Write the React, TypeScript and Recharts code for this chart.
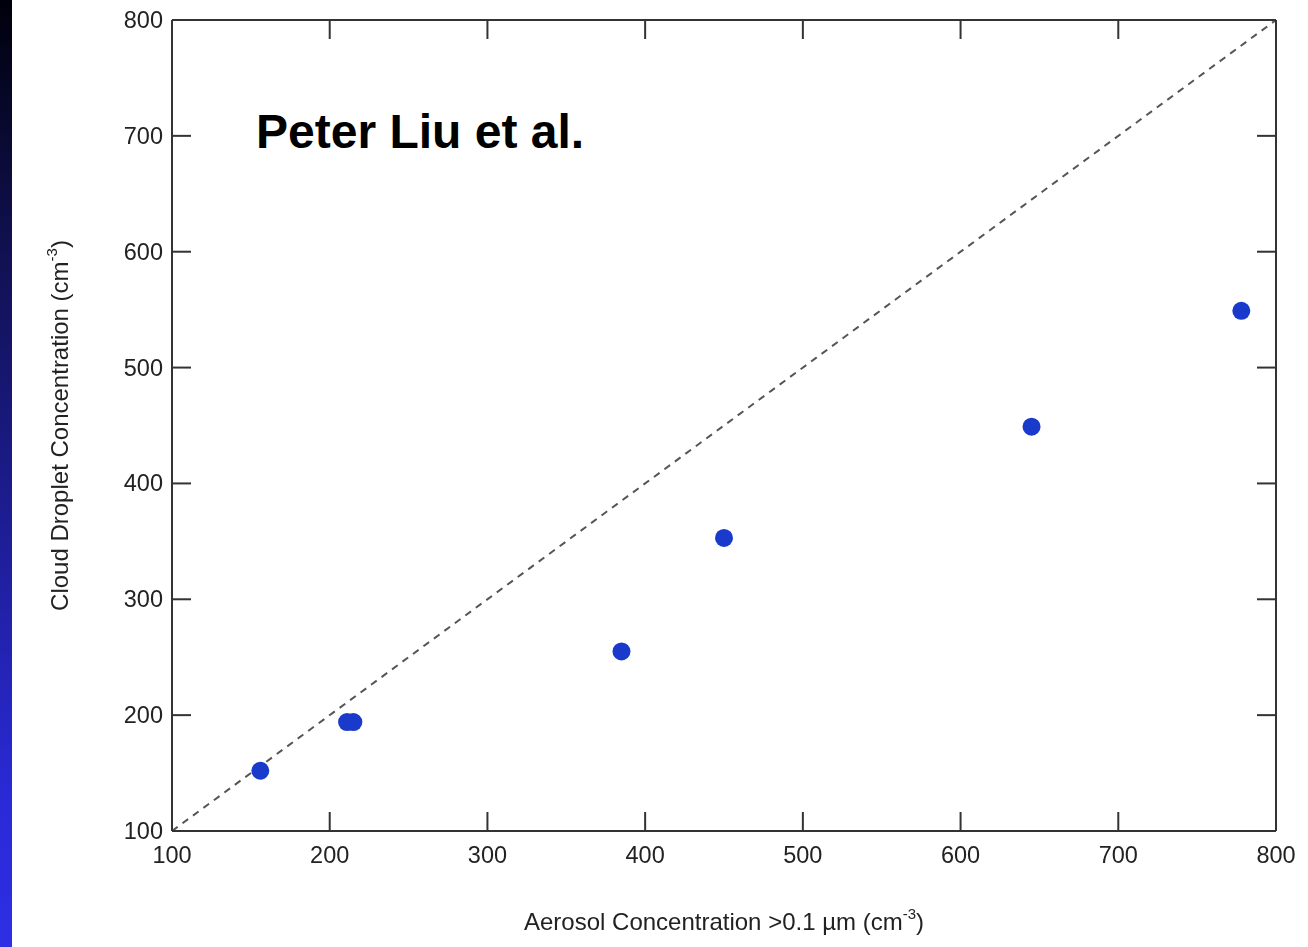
import React from "react"
import { ScatterChart, Scatter, XAxis, YAxis, ReferenceLine } from "recharts"

const aerosol = [156, 211, 215, 385, 450, 645, 778]
const droplets = [152, 194, 194, 255, 353, 449, 549]
const axisTicks = [100, 200, 300, 400, 500, 600, 700, 800]
const oneToOne = [100, 800]

const points = aerosol.map((x, i) => ({ x, y: droplets[i] }))

const FONT = "'Liberation Sans', Arial, sans-serif"
const AXIS = "#333"
const TICK_LEN = 19

const BottomTick = (props: any) => {
  const { x, y, payload } = props
  return (
    <g>
      <line x1={x} y1={y} x2={x} y2={y - TICK_LEN} stroke={AXIS} strokeWidth={2} />
      <text x={x} y={y + 32} textAnchor="middle" fontFamily={FONT} fontSize={23.5} fill="#222">
        {payload.value}
      </text>
    </g>
  )
}

const TopTick = (props: any) => {
  const { x, y } = props
  return <line x1={x} y1={y} x2={x} y2={y + TICK_LEN} stroke={AXIS} strokeWidth={2} />
}

const LeftTick = (props: any) => {
  const { x, y, payload } = props
  return (
    <g>
      <line x1={x} y1={y} x2={x + TICK_LEN} y2={y} stroke={AXIS} strokeWidth={2} />
      <text x={x - 9} y={y + 8} textAnchor="end" fontFamily={FONT} fontSize={23.5} fill="#222">
        {payload.value}
      </text>
    </g>
  )
}

const RightTick = (props: any) => {
  const { x, y } = props
  return <line x1={x} y1={y} x2={x - TICK_LEN} y2={y} stroke={AXIS} strokeWidth={2} />
}

const XTitle = (props: any) => {
  const { x, y, width } = props.viewBox
  return (
    <text x={x + width / 2} y={y + 99} textAnchor="middle" fontFamily={FONT} fontSize={24} fill="#222">
      Aerosol Concentration &gt;0.1 µm (cm
      <tspan dy={-11} fontSize={15}>-3</tspan>
      <tspan dy={11}>)</tspan>
    </text>
  )
}

const YTitle = (props: any) => {
  const { x, y, height } = props.viewBox
  const cx = x - 24
  const cy = y + height / 2
  return (
    <text
      x={cx}
      y={cy}
      transform={`rotate(-90 ${cx} ${cy})`}
      textAnchor="middle"
      fontFamily={FONT}
      fontSize={24}
      fill="#222"
    >
      Cloud Droplet Concentration (cm
      <tspan dy={-11} fontSize={15}>-3</tspan>
      <tspan dy={11}>)</tspan>
    </text>
  )
}

const Dot = (props: any) => <circle cx={props.cx} cy={props.cy} r={9} fill="#1a3acc" />

export default function App() {
  return (
    <div style={{ position: "relative", width: 1300, height: 939 }}>
      <div
        style={{
          position: "fixed",
          left: 0,
          top: 0,
          width: 12,
          height: 947,
          background: "linear-gradient(to bottom, #00000c, #10104e 25%, #2a2ad8 85%, #2e2ee4)",
        }}
      />
      <div
        style={{
          position: "absolute",
          left: 248,
          top: 96,
          fontFamily: FONT,
          fontWeight: "bold",
          fontSize: 48,
          color: "#000",
          whiteSpace: "nowrap",
        }}
      >
        Peter Liu et al.
      </div>
      <ScatterChart width={1300} height={939} margin={{ top: 11, right: 31, bottom: 56, left: 84 }}>
        <XAxis
          xAxisId="bottom"
          dataKey="x"
          type="number"
          domain={[100, 800]}
          ticks={axisTicks}
          interval={0}
          allowDataOverflow
          height={60}
          tickSize={0}
          tickMargin={0}
          tick={<BottomTick />}
          axisLine={{ stroke: AXIS, strokeWidth: 2 }}
          tickLine={false}
          label={<XTitle />}
        />
        <XAxis
          xAxisId="top"
          orientation="top"
          dataKey="x"
          type="number"
          domain={[100, 800]}
          ticks={axisTicks}
          interval={0}
          allowDataOverflow
          height={1}
          tickSize={0}
          tickMargin={0}
          tick={<TopTick />}
          axisLine={{ stroke: AXIS, strokeWidth: 2 }}
          tickLine={false}
        />
        <YAxis
          yAxisId="left"
          dataKey="y"
          type="number"
          domain={[100, 800]}
          ticks={axisTicks}
          interval={0}
          allowDataOverflow
          width={80}
          tickSize={0}
          tickMargin={0}
          tick={<LeftTick />}
          axisLine={{ stroke: AXIS, strokeWidth: 2 }}
          tickLine={false}
          label={<YTitle />}
        />
        <YAxis
          yAxisId="right"
          orientation="right"
          dataKey="y"
          type="number"
          domain={[100, 800]}
          ticks={axisTicks}
          interval={0}
          allowDataOverflow
          width={1}
          tickSize={0}
          tickMargin={0}
          tick={<RightTick />}
          axisLine={{ stroke: AXIS, strokeWidth: 2 }}
          tickLine={false}
        />
        <ReferenceLine
          xAxisId="bottom"
          yAxisId="left"
          segment={[
            { x: oneToOne[0], y: oneToOne[0] },
            { x: oneToOne[1], y: oneToOne[1] },
          ]}
          stroke="#555"
          strokeWidth={2}
          strokeDasharray="7 6"
        />
        <Scatter xAxisId="bottom" yAxisId="left" data={points} shape={<Dot />} isAnimationActive={false} />
        <Scatter xAxisId="top" yAxisId="right" data={points} shape={() => <g />} isAnimationActive={false} />
      </ScatterChart>
    </div>
  )
}
